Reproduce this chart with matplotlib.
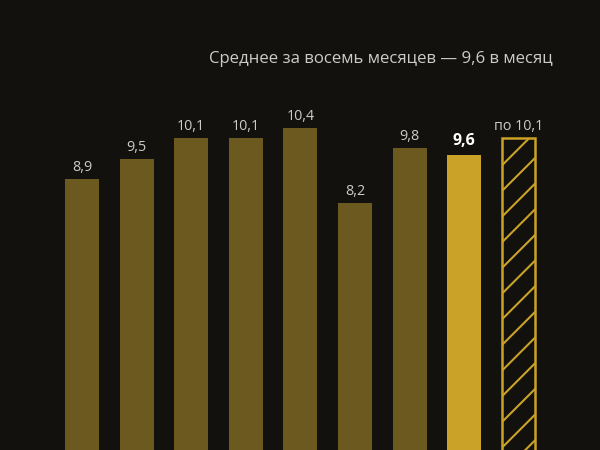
import matplotlib
matplotlib.use('Agg')
import matplotlib.pyplot as plt

# monthly values, last one is the forecast (hatched)
values = [8.9, 9.5, 10.1, 10.1, 10.4, 8.2, 9.8, 9.6]
labels = ['8,9', '9,5', '10,1', '10,1', '10,4', '8,2', '9,8', '9,6']
forecast = 10.1
forecast_label = 'по 10,1'
title = 'Среднее за восемь месяцев — 9,6 в месяц'

bg = '#13110e'
dark_bar = '#6b5920'
bright_bar = '#c9a227'
text_col = '#cbcbc9'

# lower dpi so the hatch gets denser; sizes in points are scaled back up
DPI = 77
k = 100 / DPI

plt.rcParams['font.family'] = ['Open Sans', 'DejaVu Sans']
plt.rcParams['hatch.linewidth'] = 1.5 * k
plt.rcParams['hatch.color'] = bright_bar

fig = plt.figure(figsize=(600 / DPI, 450 / DPI), dpi=DPI, facecolor=bg)
ax = fig.add_axes([0, -0.0749, 1, 1.0749])
ax.set_facecolor(bg)

x = list(range(len(values)))
colors = [dark_bar] * (len(values) - 1) + [bright_bar]
ax.bar(x, values, width=0.62, color=colors)
ax.bar(len(values), forecast, width=0.6, facecolor=bg, edgecolor=bright_bar,
       linewidth=1.8 * k, hatch='/')

for i, (v, lab) in enumerate(zip(values, labels)):
    if i == len(values) - 1:
        ax.annotate(lab, (i, v), xytext=(0, 7.5 * k), textcoords='offset points',
                    ha='center', va='baseline', fontsize=11.5 * k,
                    fontweight='bold', color='white')
    else:
        ax.annotate(lab, (i, v), xytext=(0, 5.8 * k), textcoords='offset points',
                    ha='center', va='baseline', fontsize=10.3 * k, color=text_col)
ax.annotate(forecast_label, (len(values), forecast), xytext=(0, 6.2 * k),
            textcoords='offset points', ha='center', va='baseline',
            fontsize=10.3 * k, color=text_col)

ax.set_xlim(-1.502, 9.487)
ax.set_ylim(0, 14.14)
ax.axis('off')

fig.text(553 / 600, 1 - 59 / 450, title, ha='right', va='center',
         fontsize=12.05 * k, color=text_col)

fig.savefig('out.png', dpi=DPI, facecolor=bg)
